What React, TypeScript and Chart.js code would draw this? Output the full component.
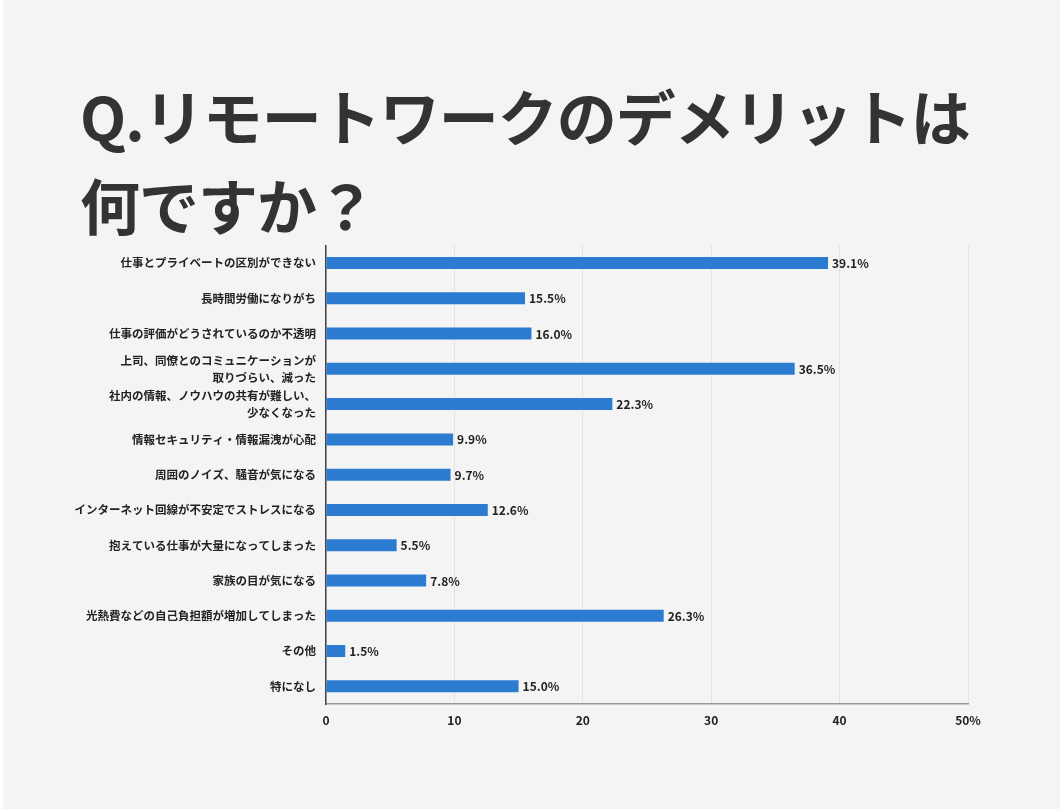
import React, { useEffect, useRef } from "react";
import { Chart, registerables } from "chart.js";

Chart.register(...registerables);

const TITLE_LINES = ["Q.リモートワークのデメリットは", "何ですか？"];

const categories: (string | string[])[] = [
  "仕事とプライベートの区別ができない",
  "長時間労働になりがち",
  "仕事の評価がどうされているのか不透明",
  ["上司、同僚とのコミュニケーションが", "取りづらい、減った"],
  ["社内の情報、ノウハウの共有が難しい、", "少なくなった"],
  "情報セキュリティ・情報漏洩が心配",
  "周囲のノイズ、騒音が気になる",
  "インターネット回線が不安定でストレスになる",
  "抱えている仕事が大量になってしまった",
  "家族の目が気になる",
  "光熱費などの自己負担額が増加してしまった",
  "その他",
  "特になし",
];

const values = [39.1, 15.5, 16.0, 36.5, 22.3, 9.9, 9.7, 12.6, 5.5, 7.8, 26.3, 1.5, 15.0];

const xTicks = [0, 10, 20, 30, 40, 50];

const FONT = "'Noto Sans CJK JP', 'Noto Sans', sans-serif";

const valueLabelPlugin = {
  id: "valueLabels",
  afterDatasetsDraw(chart: any) {
    const ctx = chart.ctx;
    const meta = chart.getDatasetMeta(0);
    ctx.save();
    ctx.font = `bold 12px ${FONT}`;
    ctx.fillStyle = "#222";
    ctx.textAlign = "left";
    ctx.textBaseline = "middle";
    meta.data.forEach((bar: any, i: number) => {
      ctx.fillText(values[i].toFixed(1) + "%", bar.x + 4, bar.y + 0.5);
    });
    ctx.restore();
  },
};

export default function App() {
  const ref = useRef<HTMLCanvasElement>(null);

  useEffect(() => {
    if (!ref.current) return;
    const chart = new Chart(ref.current, {
      type: "bar",
      data: {
        labels: categories,
        datasets: [
          {
            data: values,
            backgroundColor: "#2b7bd1",
            borderWidth: 0,
            barPercentage: 0.34,
            categoryPercentage: 1,
          },
        ],
      },
      options: {
        indexAxis: "y",
        animation: false,
        responsive: false,
        maintainAspectRatio: false,
        layout: { padding: { left: 0, right: 92, top: 5, bottom: 0 } },
        plugins: {
          legend: { display: false },
          tooltip: { enabled: false },
        },
        scales: {
          x: {
            min: 0,
            max: 50,
            afterBuildTicks(scale: any) {
              scale.ticks = xTicks.map((v) => ({ value: v }));
            },
            afterFit(scale: any) {
              scale.height = 46;
            },
            grid: { color: "#e4e4e4", drawTicks: false, lineWidth: 1 },
            border: { color: "#999", width: 1.5 },
            ticks: {
              padding: 9,
              color: "#222",
              font: { family: FONT, size: 12, weight: "bold" },
              callback: (v: any) => (Number(v) === 50 ? "50%" : String(v)),
            },
          },
          y: {
            afterFit(scale: any) {
              scale.width = 326;
            },
            grid: { display: false, drawTicks: false },
            border: { color: "#444", width: 1.5 },
            ticks: {
              padding: 10,
              color: "#222",
              autoSkip: false,
              font: { family: FONT, size: 11.5, weight: "bold", lineHeight: 1.45 },
            },
          },
        },
      },
      plugins: [valueLabelPlugin],
    });
    return () => chart.destroy();
  }, []);

  return (
    <div
      style={{
        position: "fixed",
        left: 0,
        top: 0,
        width: 1060,
        height: 809,
        background: "#f4f4f4",
        borderLeft: "3px solid #ffffff",
        boxSizing: "border-box",
        overflow: "hidden",
      }}
    >
      <div
        style={{
          position: "absolute",
          left: 77,
          top: 70,
          fontFamily: FONT,
          fontWeight: "bold",
          fontSize: 60,
          letterSpacing: "-1px",
          lineHeight: "89px",
          color: "#333",
          whiteSpace: "nowrap",
        }}
      >
        {TITLE_LINES.map((t, i) => (
          <div key={i}>{t}</div>
        ))}
      </div>
      <canvas
        ref={ref}
        width={1060}
        height={523}
        style={{ position: "absolute", left: -3, top: 227, width: 1060, height: 523 }}
      />
    </div>
  );
}
